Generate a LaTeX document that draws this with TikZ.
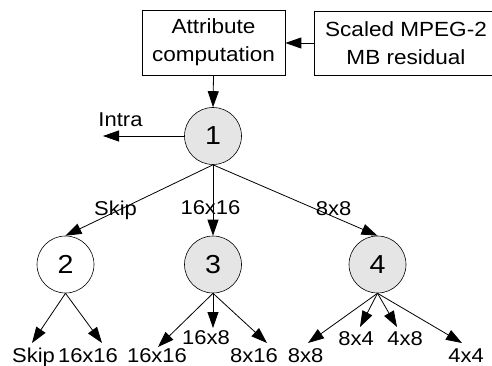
\documentclass[tikz,border=0pt]{standalone}
\usepackage{fontspec}
\setmainfont{Liberation Sans}
\usetikzlibrary{arrows.meta}
\newcommand{\wide}[1]{\scalebox{1.1}[1]{#1}}
\tikzset{
  every node/.style={font=\fontsize{20}{28}\selectfont},
  flow/.style={draw, line width=0.8pt, -{Triangle[length=16pt,width=11pt]}},
  block/.style={draw, line width=0.7pt, inner sep=0pt, align=center,
    font=\fontsize{20.5}{28}\selectfont},
  state/.style={circle, draw, line width=0.6pt, minimum size=57pt, inner sep=0pt,
    font=\fontsize{26}{28}\selectfont},
  busy/.style={state, fill=gray!20},
  lbl/.style={inner sep=0pt, anchor=base}
}
\begin{document}
\begin{tikzpicture}[x=1pt,y=-1pt]
\useasboundingbox (0,0) rectangle (492,366);
\clip (0,0) rectangle (492,366);

% input blocks
\node[block, minimum width=143pt, minimum height=65pt] (attr) at (213.5,42.5)
  {\wide{Attribute}\\\wide{computation}};
\node[block, minimum width=184pt, minimum height=64pt] (resid) at (406,43)
  {\wide{Scaled MPEG-2}\\\wide{MB residual}};

% decision states
\node[busy]  (s1) at (213,136) {\wide{1}};
\node[state] (s2) at (65.5,264.5) {\wide{2}};
\node[busy]  (s3) at (213,264.5) {\wide{3}};
\node[busy]  (s4) at (377.5,264.5) {\wide{4}};

% arrow end points
\coordinate (intra) at (103,136);
\coordinate (a21) at (32,343);
\coordinate (a22) at (102,343);
\coordinate (a31) at (158,347);
\coordinate (a32) at (213,328);
\coordinate (a33) at (267,343);
\coordinate (a41) at (308,343);
\coordinate (a42) at (360,327);
\coordinate (a43) at (397,327);
\coordinate (a44) at (462,343);

% connectors
\draw[flow] (resid.west |- 0,43) -- (attr.east |- 0,43);
\draw[flow] (attr.south) -- (s1.north);
\draw[flow] (s1.west) -- (intra);
\draw[flow] (s1.south) -- (s2.north);
\draw[flow] (s1.south) -- (s3.north);
\draw[flow] (s1.south) -- (s4.north);
\foreach \t in {a21,a22} \draw[flow] (s2.south) -- (\t);
\foreach \t in {a31,a32,a33} \draw[flow] (s3.south) -- (\t);
\foreach \t in {a41,a42,a43,a44} \draw[flow] (s4.south) -- (\t);

% branch labels
\node[inner sep=0pt] (lintra) at (120.5,120) {\wide{Intra}};
\node[lbl] (lskip) at (115.5,215) {\wide{Skip}};
\node[lbl] (l1616) at (210.5,214) {\wide{16x16}};
\node[lbl] (l88) at (333.5,215) {\wide{8x8}};

% leaf labels
\node[lbl] (m21) at (33.5,362) {\wide{Skip}};
\node[lbl] (m22) at (88,362) {\wide{16x16}};
\node[lbl] (m31) at (157,362) {\wide{16x16}};
\node[lbl] (m32) at (206,344) {\wide{16x8}};
\node[lbl] (m33) at (254,362) {\wide{8x16}};
\node[lbl] (m41) at (305.5,362) {\wide{8x8}};
\node[lbl] (m42) at (356,345) {\wide{8x4}};
\node[lbl] (m43) at (405,345) {\wide{4x8}};
\node[lbl] (m44) at (466,362) {\wide{4x4}};
\end{tikzpicture}
\end{document}
